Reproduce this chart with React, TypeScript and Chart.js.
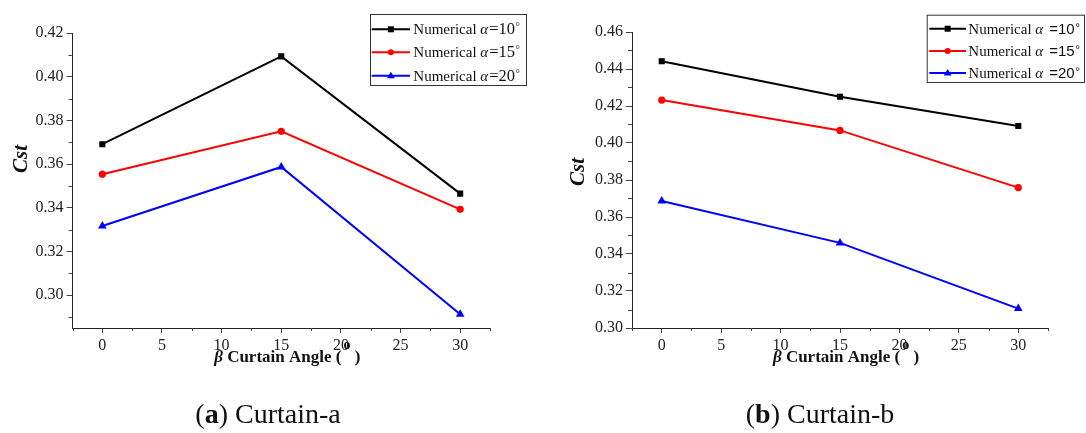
import React, { useEffect, useRef } from 'react';
import { Chart, registerables } from 'chart.js';

Chart.register(...registerables);

// ---------- data ----------
const curtainAngles = [0, 15, 30];

const curtainAAlpha10 = [0.3691, 0.4093, 0.3465];
const curtainAAlpha15 = [0.3554, 0.375, 0.3393];
const curtainAAlpha20 = [0.3317, 0.3587, 0.2913];

const curtainBAlpha10 = [0.4442, 0.425, 0.4092];
const curtainBAlpha15 = [0.4232, 0.4068, 0.3759];
const curtainBAlpha20 = [0.3686, 0.346, 0.3105];

const seriesLabels = ['Numerical α=10°', 'Numerical α=15°', 'Numerical α=20°'];
const seriesColors = ['#000000', '#ff0000', '#0000ff'];
const seriesMarkers = ['rect', 'circle', 'triangle'];

const xTickValues = [0, 5, 10, 15, 20, 25, 30];
const curtainAYTicks = [0.3, 0.32, 0.34, 0.36, 0.38, 0.4, 0.42];
const curtainBYTicks = [0.3, 0.32, 0.34, 0.36, 0.38, 0.4, 0.42, 0.44, 0.46];

const xTitleParts = ['β', ' Curtain Angle (', 'o', ' )'];
const yTitle = 'Cst';
const captionA = ['(', 'a', ') Curtain-a'];
const captionB = ['(', 'b', ') Curtain-b'];

// ---------- helpers ----------
const SERIF = '"Liberation Serif", "Times New Roman", serif';
const SANS = '"Liberation Sans", Arial, sans-serif';

function drawMarker(ctx: CanvasRenderingContext2D, style: string, x: number, y: number, r: number, color: string) {
  ctx.fillStyle = color;
  ctx.beginPath();
  if (style === 'rect') {
    ctx.rect(x - r, y - r, 2 * r, 2 * r);
  } else if (style === 'circle') {
    ctx.arc(x, y, r, 0, Math.PI * 2);
  } else {
    ctx.moveTo(x, y - r * 1.1);
    ctx.lineTo(x + r * 1.1, y + r * 0.7);
    ctx.lineTo(x - r * 1.1, y + r * 0.7);
    ctx.closePath();
  }
  ctx.fill();
}

const panelPlugin = {
  id: 'panelDecor',
  afterDraw(chart: any, _args: any, opts: any) {
    const ctx: CanvasRenderingContext2D = chart.ctx;
    const area = chart.chartArea;
    const xs = chart.scales.x;
    const ys = chart.scales.y;
    ctx.save();

    // minor ticks
    ctx.strokeStyle = '#444';
    ctx.lineWidth = 1;
    const yt: number[] = opts.yTicks;
    const ystep = yt[1] - yt[0];
    for (let i = -1; i < yt.length; i++) {
      const m = yt[0] + (i + 0.5) * ystep;
      if (m < ys.min - 1e-9 || m > ys.max + 1e-9) continue;
      const py = Math.round(ys.getPixelForValue(m)) + 0.5;
      ctx.beginPath();
      ctx.moveTo(area.left - 4, py);
      ctx.lineTo(area.left, py);
      ctx.stroke();
    }
    const xt: number[] = xTickValues;
    const xstep = xt[1] - xt[0];
    for (let i = -1; i < xt.length; i++) {
      const m = xt[0] + (i + 0.5) * xstep;
      if (m < xs.min - 1e-9 || m > xs.max + 1e-9) continue;
      const px = Math.round(xs.getPixelForValue(m)) + 0.5;
      ctx.beginPath();
      ctx.moveTo(px, area.bottom);
      ctx.lineTo(px, area.bottom + 3);
      ctx.stroke();
    }

    // y title
    ctx.fillStyle = '#111';
    ctx.save();
    ctx.translate(opts.yTitleX, opts.yTitleY);
    ctx.rotate(-Math.PI / 2);
    ctx.font = `italic bold 21px ${SERIF}`;
    ctx.textAlign = 'center';
    ctx.textBaseline = 'middle';
    ctx.fillText(yTitle, 0, 0);
    ctx.restore();

    // x title
    const fBeta = `italic bold 17px ${SERIF}`;
    const fMain = `bold 17px ${SERIF}`;
    const fSup = `bold 14px ${SERIF}`;
    const fonts = [fBeta, fMain, fSup, fMain];
    let total = 0;
    const widths = xTitleParts.map((t, i) => {
      ctx.font = fonts[i];
      const w = ctx.measureText(t).width + (i === 2 ? 2 : 0);
      total += w;
      return w;
    });
    let cx = (area.left + area.right) / 2 + 6 - total / 2;
    ctx.textAlign = 'left';
    ctx.textBaseline = 'alphabetic';
    xTitleParts.forEach((t, i) => {
      ctx.font = fonts[i];
      ctx.fillText(t, cx + (i === 2 ? 2 : 0), i === 2 ? opts.xTitleY - 13 : opts.xTitleY);
      cx += widths[i];
    });

    // legend
    const lg = opts.legend;
    ctx.strokeStyle = '#333';
    ctx.lineWidth = 1;
    ctx.strokeRect(lg.x + 0.5, lg.y + 0.5, lg.w, lg.h);
    chart.data.datasets.forEach((ds: any, i: number) => {
      const y = lg.rows[i];
      ctx.strokeStyle = ds.borderColor;
      ctx.lineWidth = 2;
      ctx.beginPath();
      ctx.moveTo(lg.s0, y);
      ctx.lineTo(lg.s1, y);
      ctx.stroke();
      drawMarker(ctx, seriesMarkers[i], (lg.s0 + lg.s1) / 2, y, i === 2 ? 3.6 : 3, ds.borderColor);
      const label: string = ds.label;
      const [pre, rest] = label.split('α');
      const digits = rest.replace('°', '');
      ctx.fillStyle = '#111';
      ctx.textBaseline = 'alphabetic';
      const base = y + 5;
      let tx = lg.textX;
      ctx.font = `15px ${SERIF}`;
      ctx.fillText(pre, tx, base);
      tx += ctx.measureText(pre).width;
      ctx.font = `italic 15px ${SERIF}`;
      ctx.fillText('α', tx, base);
      tx += ctx.measureText('α').width + (lg.sans ? 6 : 1);
      ctx.font = lg.sans ? `15px ${SANS}` : `16.5px ${SERIF}`;
      ctx.fillText(digits, tx, base);
      tx += ctx.measureText(digits).width + 0.5;
      ctx.font = lg.sans ? `12px ${SANS}` : `11px ${SERIF}`;
      ctx.fillText('°', tx, base - (lg.sans ? 2 : 4));
    });

    ctx.restore();
  },
};

type PanelCfg = {
  left: number;
  series: number[][];
  yTicks: number[];
  yMin: number;
  yMax: number;
  yAxisWidth: number;
  padTop: number;
  padRight: number;
  yTitleX: number;
  yTitleY: number;
  legend: any;
};

function ChartPanel({ cfg }: { cfg: PanelCfg }) {
  const ref = useRef<HTMLCanvasElement>(null);
  useEffect(() => {
    const datasets = cfg.series.map((vals, i) => ({
      label: seriesLabels[i],
      data: curtainAngles.map((a, j) => ({ x: a, y: vals[j] })),
      borderColor: seriesColors[i],
      backgroundColor: seriesColors[i],
      pointBackgroundColor: seriesColors[i],
      pointBorderColor: seriesColors[i],
      pointStyle: seriesMarkers[i],
      pointRadius: i === 0 ? 4.3 : i === 1 ? 3.6 : 5,
      borderWidth: 2,
      pointBorderWidth: 0,
      tension: 0,
      fill: false,
    }));
    const tickFont = { family: SERIF, size: 16 };
    const chart = new Chart(ref.current as HTMLCanvasElement, {
      type: 'line',
      data: { datasets } as any,
      plugins: [panelPlugin],
      options: {
        responsive: false,
        animation: false,
        layout: { padding: { top: cfg.padTop, right: cfg.padRight, bottom: 55, left: 0 } },
        plugins: {
          legend: { display: false },
          tooltip: { enabled: false },
          panelDecor: {
            yTicks: cfg.yTicks,
            yTitleX: cfg.yTitleX,
            yTitleY: cfg.yTitleY,
            xTitleY: 362,
            legend: cfg.legend,
          },
        } as any,
        scales: {
          x: {
            type: 'linear',
            min: -2.5,
            max: 32.5,
            afterBuildTicks: (s: any) => {
              s.ticks = xTickValues.map((v) => ({ value: v }));
            },
            afterFit: (s: any) => {
              s.height = 50;
            },
            grid: { drawOnChartArea: false, drawTicks: true, tickLength: 5, tickColor: '#444' },
            border: { display: true, color: '#222', width: 1 },
            ticks: { font: tickFont, color: '#222', padding: 3, maxRotation: 0, autoSkip: false },
          },
          y: {
            type: 'linear',
            min: cfg.yMin,
            max: cfg.yMax,
            afterBuildTicks: (s: any) => {
              s.ticks = cfg.yTicks.map((v) => ({ value: v }));
            },
            afterFit: (s: any) => {
              s.width = cfg.yAxisWidth;
            },
            grid: { drawOnChartArea: false, drawTicks: true, tickLength: 6, tickColor: '#444' },
            border: { display: true, color: '#222', width: 1 },
            ticks: {
              font: tickFont,
              color: '#222',
              padding: 3,
              autoSkip: false,
              callback: (v: any) => Number(v).toFixed(2),
            },
          },
        } as any,
      },
    });
    return () => chart.destroy();
  }, []);
  return (
    <canvas
      ref={ref}
      width={543}
      height={433}
      style={{ position: 'absolute', left: cfg.left, top: 0, width: 543, height: 433 }}
    />
  );
}

const panelA: PanelCfg = {
  left: 0,
  series: [curtainAAlpha10, curtainAAlpha15, curtainAAlpha20],
  yTicks: curtainAYTicks,
  yMin: 0.285,
  yMax: 0.42,
  yAxisWidth: 72.5,
  padTop: 33,
  padRight: 53,
  yTitleX: 21.5,
  yTitleY: 159,
  legend: { x: 370, y: 14, w: 156, h: 71, rows: [29.3, 52.3, 75.7], s0: 371.7, s1: 410, textX: 413.3, sans: false },
};

const panelB: PanelCfg = {
  left: 543,
  series: [curtainBAlpha10, curtainBAlpha15, curtainBAlpha20],
  yTicks: curtainBYTicks,
  yMin: 0.3,
  yMax: 0.46,
  yAxisWidth: 89,
  padTop: 32,
  padRight: 38,
  yTitleX: 36,
  yTitleY: 172,
  legend: { x: 383.7, y: 14.7, w: 157.3, h: 67.3, rows: [28.7, 51, 73], s0: 386.3, s1: 423, textX: 425.3, sans: true },
};

function Caption({ parts, center }: { parts: string[]; center: number }) {
  return (
    <div
      style={{
        position: 'absolute',
        left: center - 150,
        width: 300,
        top: 398,
        textAlign: 'center',
        fontFamily: SERIF,
        fontSize: 28,
        lineHeight: '32px',
        color: '#111',
      }}
    >
      {parts[0]}
      <b>{parts[1]}</b>
      {parts[2]}
    </div>
  );
}

export default function App() {
  return (
    <div style={{ position: 'fixed', left: 0, top: 0, width: 1086, height: 433, background: '#fff', overflow: 'hidden' }}>
      <ChartPanel cfg={panelA} />
      <ChartPanel cfg={panelB} />
      <Caption parts={captionA} center={268} />
      <Caption parts={captionB} center={820} />
    </div>
  );
}
